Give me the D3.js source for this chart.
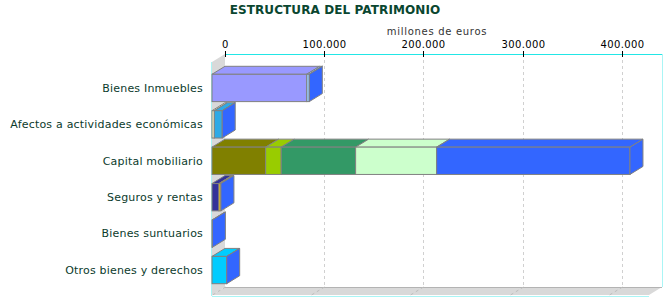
<!DOCTYPE html>
<html>
<head>
<meta charset="utf-8">
<script src="https://cdn.jsdelivr.net/npm/d3@7"></script>
<style>
  body { margin: 0; background: #fff; }
  text { font-family: "DejaVu Sans", Verdana, sans-serif; }
</style>
</head>
<body>
<div id="chart"></div>
<script>
// categories (rows, top to bottom)
const categories = ["Bienes Inmuebles", "Afectos a actividades económicas", "Capital mobiliario",
    "Seguros y rentas", "Bienes suntuarios", "Otros bienes y derechos"];

// stacked values per row, millones de euros (last one is the blue series)
const inmuebles = [95500, 2600, 0];
const afectos = [2300, 8000, 0];
const capital = [54100, 15700, 75000, 81700, 194900];
const seguros = [7000, 2000, 0];
const suntuarios = [400];
const otros = [14800, 0];

const tickValues = [0, 100000, 200000, 300000, 400000];

// colours of each row's segments
const inmueblesColors = ["#9999ff", "#99ccff", "#3366ff"];
const afectosColors = ["#ffffcc", "#2eaae6", "#3366ff"];
const capitalColors = ["#808000", "#99cc00", "#339966", "#ccffcc", "#3366ff"];
const segurosColors = ["#333399", "#ffcc00", "#3366ff"];
const suntuariosColors = ["#3366ff"];
const otrosColors = ["#00ccff", "#3366ff"];

const rows = [
    { name: categories[0], values: inmuebles, colors: inmueblesColors },
    { name: categories[1], values: afectos, colors: afectosColors },
    { name: categories[2], values: capital, colors: capitalColors },
    { name: categories[3], values: seguros, colors: segurosColors },
    { name: categories[4], values: suntuarios, colors: suntuariosColors },
    { name: categories[5], values: otros, colors: otrosColors }
];

drawChart(rows);

function drawChart(data) {
    const width = 670, height = 300;
    // 3d depth offset
    const dx = 13, dy = -8;
    // front plane
    const left = 212, right = 649, top = 62, bottom = 295;

    const svg = d3.select("#chart")
        .append("svg")
        .attr("width", width)
        .attr("height", height);

    const xScale = d3.scaleLinear()
        .domain([0, 440600])
        .range([left, right]);

    const yScale = d3.scaleBand()
        .domain(data.map(d => d.name))
        .range([top + 1, bottom])
        .paddingInner(0.25)
        .paddingOuter(0.31);

    const fmt = d3.formatLocale({ decimal: ",", thousands: ".", grouping: [3], currency: ["", "€"] }).format(",d");

    // left wall
    svg.append("polygon")
        .attr("points", [[left, top], [left + dx, top + dy], [left + dx, bottom + dy], [left, bottom]].join(" "))
        .style("fill", "#d9d9d9");

    // floor
    svg.append("polygon")
        .attr("points", [[left, bottom], [left + dx, bottom + dy], [right + dx, bottom + dy], [right, bottom]].join(" "))
        .style("fill", "#d9d9d9");
    svg.append("line")
        .attr("x1", left + dx).attr("x2", right + dx)
        .attr("y1", bottom + dy + 0.5).attr("y2", bottom + dy + 0.5)
        .style("stroke", "#b3b3b3");

    // gridlines on back wall and floor
    const grid = svg.append("g");
    tickValues.forEach(v => {
        const gx = Math.round(xScale(v) + dx) + 0.5;
        if (v > 0) {
            grid.append("line")
                .attr("x1", gx).attr("x2", gx)
                .attr("y1", top + dy).attr("y2", bottom + dy)
                .style("stroke", "#d0d0d0")
                .style("stroke-dasharray", "3,3");
        }
        grid.append("line")
            .attr("x1", gx).attr("x2", gx - dx)
            .attr("y1", bottom + dy).attr("y2", bottom)
            .style("stroke", "#bdbdbd")
            .style("stroke-dasharray", "3,3");
    });

    // frame lines
    svg.append("line")
        .attr("x1", left + dx).attr("x2", right + dx + 1)
        .attr("y1", top + dy + 0.5).attr("y2", top + dy + 0.5)
        .style("stroke", "#22e6e6");
    svg.append("line")
        .attr("x1", right + dx + 0.5).attr("x2", right + dx + 0.5)
        .attr("y1", top + dy).attr("y2", bottom + dy)
        .style("stroke", "#aaf5f5");
    svg.append("line")
        .attr("x1", left - 0.5).attr("x2", left - 0.5)
        .attr("y1", top).attr("y2", bottom + 1)
        .style("stroke", "#aaf5f5");
    svg.append("line")
        .attr("x1", left).attr("x2", right)
        .attr("y1", bottom + 1.5).attr("y2", bottom + 1.5)
        .style("stroke", "#aaf5f5");

    // axis ticks and labels on top
    const axis = svg.append("g");
    tickValues.forEach(v => {
        const tx = Math.round(xScale(v) + dx) + 0.5;
        axis.append("line")
            .attr("x1", tx).attr("x2", tx)
            .attr("y1", top + dy - 3).attr("y2", top + dy + 3)
            .style("stroke", "#000");
        axis.append("text")
            .attr("x", tx)
            .attr("y", 48)
            .attr("text-anchor", "middle")
            .style("font-size", "10px")
            .style("letter-spacing", "0.4px")
            .style("fill", "#000")
            .text(fmt(v));
    });

    // bars
    const h = yScale.bandwidth();
    data.forEach(row => {
        const y0 = yScale(row.name);
        let acc = 0;
        const g = svg.append("g");
        row.values.forEach((v, i) => {
            const x0 = xScale(acc);
            const x1 = xScale(acc + v);
            acc += v;
            const color = row.colors[i];
            // top face
            g.append("polygon")
                .attr("points", [[x0, y0], [x0 + dx, y0 + dy], [x1 + dx, y0 + dy], [x1, y0]].join(" "))
                .style("fill", color)
                .style("stroke", "#808080")
                .style("stroke-linejoin", "round");
            // front face
            g.append("rect")
                .attr("x", x0)
                .attr("y", y0)
                .attr("width", x1 - x0)
                .attr("height", h)
                .style("fill", color)
                .style("stroke", "#808080");
            // side face on the last segment
            if (i === row.values.length - 1) {
                g.append("polygon")
                    .attr("points", [[x1, y0], [x1 + dx, y0 + dy], [x1 + dx, y0 + dy + h], [x1, y0 + h]].join(" "))
                    .style("fill", color)
                    .style("stroke", "#808080");
            }
        });

        // category label
        svg.append("text")
            .attr("x", 203)
            .attr("y", y0 + h / 2)
            .attr("dy", "0.35em")
            .attr("text-anchor", "end")
            .style("font-size", "11px")
            .style("letter-spacing", "0.2px")
            .style("fill", "#0b3b2c")
            .text(row.name);
    });

    // title
    svg.append("text")
        .attr("x", 335)
        .attr("y", 14)
        .attr("text-anchor", "middle")
        .style("font-size", "12px")
        .style("font-weight", "bold")
        .style("letter-spacing", "0.1px")
        .style("fill", "#0a4630")
        .text("ESTRUCTURA DEL PATRIMONIO");

    // units label
    svg.append("text")
        .attr("x", 437)
        .attr("y", 35)
        .attr("text-anchor", "middle")
        .style("font-size", "10px")
        .style("letter-spacing", "0.7px")
        .style("fill", "#333")
        .text("millones de euros");
}
</script>
</body>
</html>
